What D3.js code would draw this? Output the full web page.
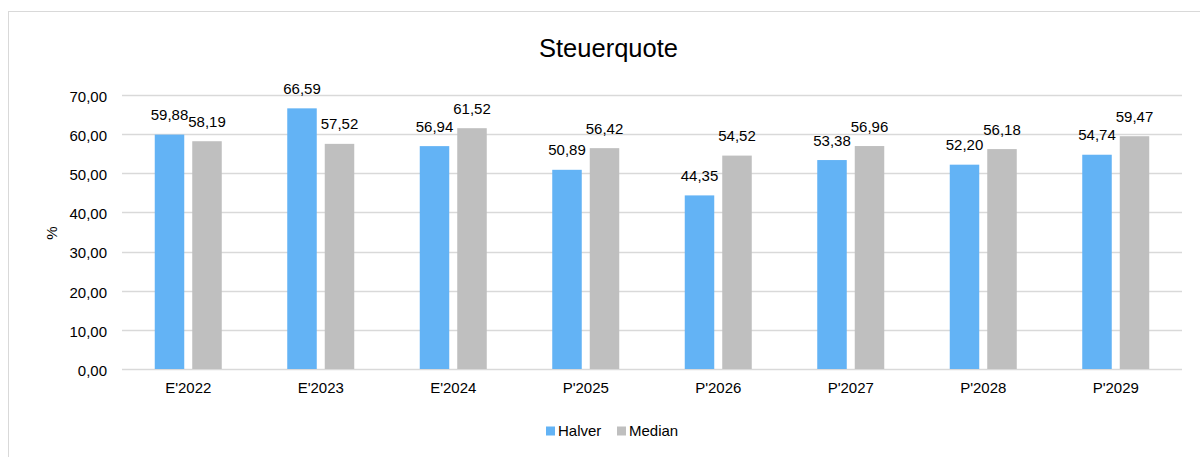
<!DOCTYPE html>
<html><head><meta charset="utf-8">
<script src="https://cdn.jsdelivr.net/npm/d3@7"></script>
<style>body{margin:0;background:#fff}svg{display:block;font-family:"Liberation Sans",Arial,sans-serif}</style>
</head><body><svg id="c" width="1200" height="457"></svg>
<script>
const categories = ["E'2022","E'2023","E'2024","P'2025","P'2026","P'2027","P'2028","P'2029"];
const halver = [59.88,66.59,56.94,50.89,44.35,53.38,52.20,54.74];
const median = [58.19,57.52,61.52,56.42,54.52,56.96,56.18,59.47];
const seriesNames = ["Halver","Median"];
const colors = ["#63B3F5","#BFBFBF"];
const yTicks = [0,10,20,30,40,50,60,70];

const svg = d3.select("#c");
const fmt = v => d3.format(".2f")(v).replace(".", ",");
const FONT = "Liberation Sans, Arial, sans-serif";
// frame
svg.append("rect").attr("x",8.5).attr("y",11.5).attr("width",1300).attr("height",600)
  .attr("fill","none").attr("stroke","#D9D9D9");

const x0 = d3.scaleBand().domain(categories).range([122,1182]);
const y = d3.scaleLinear().domain([0,70]).range([369,95]);
const barW = 29.5, gap = 8;

// gridlines
svg.append("g").selectAll("line").data(yTicks).join("line")
  .attr("x1",122).attr("x2",1182).attr("y1",d=>Math.round(y(d))+0.5).attr("y2",d=>Math.round(y(d))+0.5)
  .attr("stroke","#D9D9D9").attr("stroke-width",1.5);

// y axis labels
const yAxis = d3.axisLeft(y).tickValues(yTicks).tickFormat(fmt).tickSize(0).tickPadding(15);
const ya = svg.append("g").attr("transform","translate(122,0)").call(yAxis);
ya.select(".domain").remove();
ya.selectAll("text").attr("font-size",15).attr("fill","#000").attr("font-family",FONT).attr("dy","0.42em");

// x axis labels
const xAxis = d3.axisBottom(x0).tickSize(0).tickPadding(13.5);
const xa = svg.append("g").attr("transform","translate(0,369)").call(xAxis);
xa.select(".domain").remove();
xa.selectAll("text").attr("font-size",15).attr("fill","#000").attr("font-family",FONT);

const data = [halver, median];
data.forEach((vals, s) => {
  const g = svg.append("g");
  const cx = c => x0(c) + x0.bandwidth()/2 + (s===0 ? -(gap/2 + barW) : gap/2);
  g.selectAll("rect").data(categories).join("rect")
    .attr("x", c => cx(c)).attr("width", barW)
    .attr("y", (c,i) => y(vals[i])).attr("height", (c,i) => y(0) - y(vals[i]))
    .attr("fill", colors[s]);
  g.selectAll("text").data(categories).join("text")
    .attr("x", c => cx(c) + barW/2).attr("y", (c,i) => y(vals[i]) - 14.4)
    .attr("text-anchor","middle").attr("font-size",15).attr("fill","#000")
    .text((c,i) => fmt(vals[i]));
});

// title
svg.append("text").attr("x",608.5).attr("y",57).attr("text-anchor","middle")
  .attr("font-size",25.5).attr("fill","#000").text("Steuerquote");
// y title
svg.append("text").attr("transform","translate(57,233) rotate(-90)").attr("text-anchor","middle")
  .attr("font-size",15).attr("fill","#000").text("%");

// legend
const leg = svg.append("g");
const legX = [546, 617];
seriesNames.forEach((n,i) => {
  leg.append("rect").attr("x",legX[i]).attr("y",426.5).attr("width",9).attr("height",9).attr("fill",colors[i]);
  leg.append("text").attr("x",legX[i]+12).attr("y",436).attr("font-size",15).attr("fill","#000").text(n);
});
</script></body></html>
